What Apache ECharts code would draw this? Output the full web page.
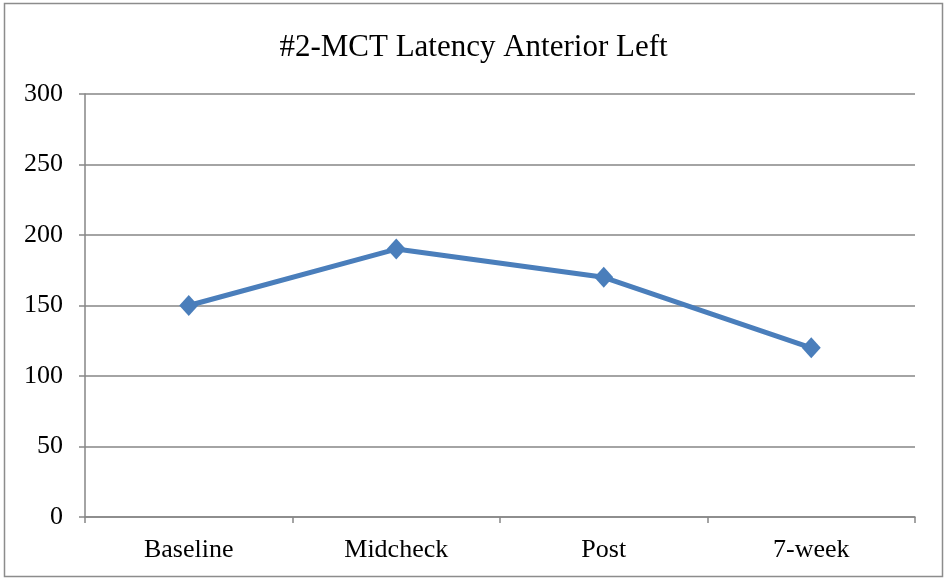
<!DOCTYPE html>
<html>
<head>
<meta charset="utf-8">
<script src="https://cdn.jsdelivr.net/npm/echarts@6/dist/echarts.min.js"></script>
<style>
  html, body { margin: 0; padding: 0; background: #fff; }
  #chart { width: 947px; height: 579px; }
</style>
</head>
<body>
<div id="chart"></div>
<script>
  // data
  const categories = ['Baseline', 'Midcheck', 'Post', '7-week'];
  const latency = [150, 190, 170, 120];
  const titleText = '#2-MCT Latency Anterior Left';

  const serif = '"Liberation Serif", "Times New Roman", serif';
  const chart = echarts.init(document.getElementById('chart'));

  chart.setOption({
    animation: false,
    backgroundColor: '#fff',
    title: {
      text: titleText,
      left: 'center',
      top: 27,
      textStyle: { fontFamily: serif, fontSize: 31, fontWeight: 'normal', color: '#000' }
    },
    graphic: [{
      type: 'rect',
      shape: { x: 4.5, y: 3.5, width: 938, height: 573 },
      style: { fill: 'none', stroke: '#8c8c8c', lineWidth: 1.5 },
      silent: true
    }],
    grid: { left: 85, right: 32, top: 94, bottom: 62 },
    xAxis: {
      type: 'category',
      data: categories,
      boundaryGap: true,
      axisLine: { lineStyle: { color: '#868686', width: 1.5 } },
      axisTick: { show: true, length: 6, alignWithLabel: false, lineStyle: { color: '#868686', width: 1.5 } },
      axisLabel: { fontFamily: serif, fontSize: 26, color: '#000', margin: 20 }
    },
    yAxis: {
      type: 'value',
      min: 0,
      max: 300,
      interval: 50,
      axisLine: { show: true, lineStyle: { color: '#868686', width: 1.5 } },
      axisTick: { show: true, length: 6, lineStyle: { color: '#868686', width: 1.5 } },
      axisLabel: { fontFamily: serif, fontSize: 26, color: '#000', margin: 22 },
      splitLine: { lineStyle: { color: '#868686', width: 1.5 } }
    },
    series: [{
      type: 'line',
      data: latency,
      symbol: 'diamond',
      symbolSize: [19, 21],
      lineStyle: { color: '#4a7ebb', width: 5 },
      itemStyle: { color: '#4a7ebb' }
    }]
  });
</script>
</body>
</html>
